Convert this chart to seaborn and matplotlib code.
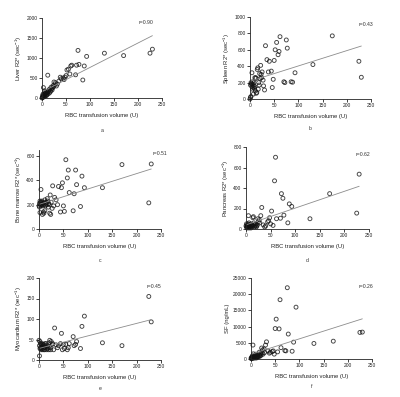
import numpy as np
import pandas as pd
import matplotlib
matplotlib.use('Agg')
import matplotlib.pyplot as plt
import seaborn as sns

# RBC transfusion volume (U), shared by all panels
rbc_volume = [230, 225, 170, 130, 93, 88, 85, 77, 75, 72, 70, 62, 60, 58, 55, 52, 50, 48, 46, 44,
              40, 38, 35, 32, 30, 28, 27, 25, 24, 23, 22, 21, 20, 19, 18, 17, 16, 15, 14, 13,
              12, 12, 11, 10, 10, 9, 8, 8, 7, 6, 6, 5, 5, 4, 4, 3, 3, 2, 2, 1, 1, 0]

liver_r2 = [1220, 1120, 1060, 1120, 1040, 800, 450, 840, 1190, 820, 580, 820, 800, 600, 720, 700, 560, 520, 460, 500,
            480, 520, 420, 350, 300, 380, 330, 400, 280, 310, 250, 200, 230, 270, 180, 150, 220, 120, 200, 160,
            570, 100, 130, 160, 80, 60, 120, 90, 150, 40, 110, 70, 180, 30, 120, 60, 260, 20, 90, 50, 10, 0]

spleen_r2 = [265, 460, 770, 420, 320, 205, 210, 620, 720, 200, 210, 760, 580, 540, 690, 600, 470, 240, 140, 340,
             460, 330, 480, 650, 110, 160, 230, 330, 260, 300, 410, 250, 310, 170, 200, 120, 380, 360, 80, 70,
             250, 260, 100, 150, 260, 130, 200, 160, 60, 180, 140, 120, 210, 150, 320, 180, 190, 30, 200, 20, 170, 0]

bone_r2 = [535, 215, 530, 340, 340, 435, 185, 365, 485, 290, 150, 300, 485, 420, 570, 145, 190, 380, 340, 140,
           350, 200, 240, 260, 190, 355, 170, 220, 120, 280, 130, 200, 210, 180, 230, 250, 200, 220, 210, 190,
           240, 150, 220, 200, 130, 140, 210, 190, 120, 230, 200, 210, 220, 190, 325, 220, 200, 135, 230, 210, 180, 190]

pancreas_r2 = [535, 155, 345, 100, 220, 245, 60, 135, 300, 345, 105, 100, 700, 470, 35, 175, 50, 110, 80, 70,
               30, 20, 40, 210, 130, 60, 90, 70, 100, 40, 30, 20, 50, 30, 40, 20, 60, 120, 110, 30,
               20, 40, 30, 50, 10, 20, 40, 30, 20, 60, 10, 130, 40, 30, 50, 20, 40, 10, 30, 20, 50, 30]

myo_r2 = [93, 155, 35, 42, 107, 82, 28, 45, 38, 35, 57, 40, 30, 25, 38, 28, 38, 25, 65, 40,
          35, 30, 37, 78, 25, 40, 38, 45, 25, 30, 48, 42, 25, 30, 35, 28, 25, 40, 35, 30,
          25, 40, 35, 30, 25, 38, 28, 35, 25, 32, 40, 28, 35, 38, 25, 30, 40, 28, 45, 10, 35, 48]

sf = [8300, 8200, 5500, 4800, 16000, 5200, 2400, 7700, 22000, 2500, 2600, 3500, 18300, 9300, 2200, 12300, 9400, 1500, 2500, 2300,
      2100, 1800, 2500, 5300, 4300, 2000, 3100, 1500, 2800, 1900, 3400, 1200, 1600, 900, 1100, 2100, 700, 1300, 800, 500,
      600, 1000, 300, 1500, 400, 800, 600, 1200, 300, 900, 400, 600, 1600, 200, 4300, 500, 1000, 300, 700, 100, 400, 200]

y_series = [liver_r2, spleen_r2, bone_r2, pancreas_r2, myo_r2, sf]
y_labels = ['Liver R2* (sec$^{-1}$)', 'Spleen R2* (sec$^{-1}$)', 'Bone marrow R2* (sec$^{-1}$)',
            'Pancreas R2* (sec$^{-1}$)', 'Myocardium R2* (sec$^{-1}$)', 'SF (ng/mL)']
r_labels = ['r=0.90', 'r=0.43', 'r=0.51', 'r=0.62', 'r=0.45', 'r=0.26']
panel_letters = ['a', 'b', 'c', 'd', 'e', 'f']
y_limits = [2000, 1000, 650, 800, 200, 25000]
y_max_tick = [2000, 1000, 600, 800, 200, 25000]
y_steps = [500, 200, 200, 200, 50, 5000]

sns.set_style('ticks')
plt.rcParams['font.family'] = ['Liberation Sans', 'DejaVu Sans']
plt.rcParams['mathtext.default'] = 'regular'

W, H = 400, 397
fig = plt.figure(figsize=(4.0, 3.97), dpi=100)

# axes boxes in pixels: left, right, top, bottom
boxes = [(42, 162, 18, 98), (250, 371, 17, 99),
         (39, 161, 150, 229), (246, 369, 147, 229),
         (39, 161, 278, 360), (251, 372, 278, 359)]
r_pos = [(0.925, 0.94), (1.02, 0.91), (1.05, 0.95), (1.01, 0.91), (1.0, 0.90), (1.01, 0.90)]
letter_y = [131, 128, 261, 261, 388, 386]

for i in range(6):
    l, r, t, b = boxes[i]
    ax = fig.add_axes([l / W, (H - b) / H, (r - l) / W, (b - t) / H])
    df = pd.DataFrame({'x': rbc_volume, 'y': y_series[i]})
    sns.regplot(data=df, x='x', y='y', ax=ax, ci=None,
                scatter_kws=dict(s=8, facecolors='none', edgecolors='#111111', linewidths=0.65, clip_on=False),
                line_kws=dict(color='#8c8c8c', lw=0.6))
    ax.set_xlim(0, 250)
    ax.set_ylim(0, y_limits[i])
    ax.set_xticks(np.arange(0, 251, 50))
    ax.set_yticks(np.arange(0, y_max_tick[i] + 1, y_steps[i]))
    ax.tick_params(labelsize=3.5, length=2.2, width=0.6, pad=1, colors='#222222')
    for s in ['left', 'bottom']:
        ax.spines[s].set_linewidth(0.6)
        ax.spines[s].set_color('#222222')
    sns.despine(ax=ax)
    ax.set_xlabel('RBC transfusion volume (U)', fontsize=4.2, labelpad=4, color='#222222')
    ax.set_ylabel(y_labels[i], fontsize=4.2, labelpad=2, color='#222222')
    ax.text(r_pos[i][0], r_pos[i][1], r_labels[i], transform=ax.transAxes,
            ha='right', va='center', fontsize=3.7, color='#333333')
    fig.text((l + r) / 2 / W, 1 - letter_y[i] / H, panel_letters[i],
             ha='center', va='center', fontsize=3.7, color='#333333')

fig.savefig('out.png', dpi=100)
